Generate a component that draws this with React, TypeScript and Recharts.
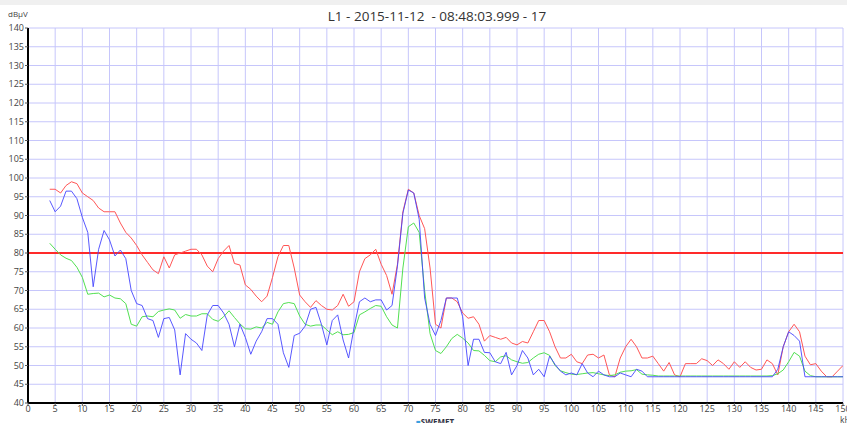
import { CartesianGrid, Line, LineChart, ReferenceLine, XAxis, YAxis } from 'recharts'

// frequency in kHz
const freqs = [
  4, 5, 6, 7, 8, 9, 10, 11, 12, 13,
  14, 15, 16, 17, 18, 19, 20, 21, 22, 23,
  24, 25, 26, 27, 28, 29, 30, 31, 32, 33,
  34, 35, 36, 37, 38, 39, 40, 41, 42, 43,
  44, 45, 46, 47, 48, 49, 50, 51, 52, 53,
  54, 55, 56, 57, 58, 59, 60, 61, 62, 63,
  64, 65, 66, 67, 68, 69, 70, 71, 72, 73,
  74, 75, 76, 77, 78, 79, 80, 81, 82, 83,
  84, 85, 86, 87, 88, 89, 90, 91, 92, 93,
  94, 95, 96, 97, 98, 99, 100, 101, 102, 103,
  104, 105, 106, 107, 108, 109, 110, 111, 112, 113,
  114, 115, 116, 117, 118, 119, 120, 121, 122, 123,
  124, 125, 126, 127, 128, 129, 130, 131, 132, 133,
  134, 135, 136, 137, 138, 139, 140, 141, 142, 143,
  144, 145, 146, 147, 148, 149, 150,
]

// max hold (red)
const maxValues = [
  97, 97, 96, 98, 99, 98.5, 96, 95, 94, 92,
  91, 91, 91, 88, 85.5, 84, 82, 79.5, 77.5, 75.5,
  74.5, 79, 76, 79.5, 80, 80.5, 81, 81, 79.5, 76.5,
  75, 78.5, 80.5, 82, 77.2, 76.8, 71.5, 70.3, 68.5, 67,
  68.5, 73.5, 79, 82, 82, 76, 68.8, 67, 65.5, 67.3,
  66, 65, 64.8, 66, 69, 65.8, 67, 75, 78.5, 79.5,
  81, 77, 74, 69, 77, 91, 97, 96, 90, 86.5,
  76, 61, 60, 68, 68, 67, 64, 62.6, 63, 61,
  56.5, 58, 57.5, 57, 57.5, 56, 55.5, 56.4, 56, 59,
  62, 62, 59, 55, 52, 52, 53, 51, 50.5, 52.8,
  53, 52, 52.8, 47.5, 47, 52, 55, 57, 55, 52,
  52, 52.5, 50.5, 48.5, 50.8, 47.5, 47, 50.5, 50.5, 50.5,
  51.8, 51.3, 50, 51.5, 50.5, 49, 51, 49.5, 51, 49.5,
  48.8, 49, 51.5, 50.5, 47.5, 55, 59, 61, 59, 52.5,
  50.2, 50.5, 48.5, 47, 47, 48.5, 50,
]

// actual (blue)
const actValues = [
  94, 91, 92.5, 96.5, 96.5, 94.5, 89.5, 85.5, 71, 81,
  86, 83.5, 79.2, 80.8, 78.5, 70, 66.5, 66, 62.5, 62,
  57.5, 62.5, 62.8, 59.5, 47.5, 58.5, 57, 56, 54, 63.5,
  66, 66, 64, 61, 55, 61, 57.5, 53, 56.5, 59,
  62.5, 62.5, 61, 53.4, 49.5, 58, 58.6, 60.5, 65, 65.5,
  61, 55.5, 62, 63.5, 56.8, 52, 60, 67, 68, 67,
  67.5, 67.5, 64.8, 66, 76.5, 90.6, 96.8, 96, 89, 68,
  61, 58, 62, 68, 68, 68, 63, 50, 57, 57,
  53.5, 53.4, 51, 50.5, 53.5, 47.5, 50, 54, 52, 47.5,
  49, 47, 52.5, 50.3, 48.5, 47.5, 48, 47.5, 50.5, 48,
  47, 48.5, 47.5, 47, 47, 48, 47.5, 47, 49, 48.5,
  47, 47, 47, 47, 47, 47, 47, 47, 47, 47,
  47, 47, 47, 47, 47, 47, 47, 47, 47, 47,
  47, 47, 47, 47, 49, 55, 59, 58, 56.5, 47,
  47, 47, 47, 47, 47, 47, 47,
]

// average (green)
const avgValues = [
  82.6, 81, 79.5, 78.6, 78, 76.2, 73.5, 69, 69.2, 69.3,
  68.3, 68.8, 68, 67.8, 66.5, 61, 60.5, 63, 63.2, 63,
  64.4, 64.8, 65.1, 64.8, 62.6, 63.6, 63.2, 63.2, 63.8, 63.8,
  62.3, 61.8, 63, 64.6, 62.8, 61.1, 59.8, 59.7, 60.3, 60,
  61.5, 61, 64.3, 66.5, 66.8, 66.5, 63.2, 61, 60.5, 60.8,
  60.8, 59.5, 58.2, 59, 58.2, 58.3, 58.8, 63.5, 64.3, 65.2,
  66, 65.8, 63, 60.8, 60, 76, 87, 88, 85.5, 70,
  58.5, 54, 53.2, 55, 57.2, 58.3, 57.3, 56, 54, 53.9,
  52.7, 51.3, 51, 52.3, 52.6, 51.5, 51, 50.6, 50.8, 52,
  53, 53.4, 52.7, 50, 48.6, 48.1, 47.7, 47.6, 47.8, 48,
  48.1, 47.8, 47.5, 47.3, 47.5, 48.2, 48.5, 48.6, 48.9, 47.7,
  47.5, 47.4, 47.2, 47.2, 47.2, 47.2, 47.2, 47.2, 47.2, 47.2,
  47.2, 47.2, 47.2, 47.2, 47.2, 47.2, 47.2, 47.2, 47.2, 47.2,
  47.2, 47.2, 47.2, 47.3, 47.8, 48.8, 51, 53.5, 52.5, 48.5,
  47.3, 47, 47, 47, 47, 47, 47,
]

const limit = 80

const xTicks = [
  0, 5, 10, 15, 20, 25, 30, 35, 40, 45, 50, 55, 60, 65, 70, 75,
  80, 85, 90, 95, 100, 105, 110, 115, 120, 125, 130, 135, 140, 145, 150,
]
const yTicks = [
  40, 45, 50, 55, 60, 65, 70, 75, 80, 85, 90, 95, 100,
  105, 110, 115, 120, 125, 130, 135, 140,
]

const title = 'L1 - 2015-11-12  - 08:48:03.999 - 17'

const data = freqs.map((f, i) => ({
  f,
  max: maxValues[i],
  act: actValues[i],
  avg: avgValues[i],
}))

const font = '"Open Sans", "Noto Sans", sans-serif'
const tickStyle = { fill: '#444', fontSize: 9, fontFamily: font }

export default function App() {
  return (
    <div
      style={{
        position: 'absolute',
        left: 0,
        top: 0,
        width: 847,
        height: 423,
        background: '#fff',
        overflow: 'hidden',
        fontFamily: font,
      }}
    >
      <div style={{ position: 'absolute', left: 0, top: 0, width: 847, height: 5, background: '#f0f0f0' }} />
      <div
        style={{
          position: 'absolute',
          left: 0,
          width: 874,
          top: 7,
          textAlign: 'center',
          fontSize: 13.5,
          color: '#333',
          whiteSpace: 'pre',
        }}
      >
        {title}
      </div>
      <div style={{ position: 'absolute', left: 8, top: 8, fontSize: 8, color: '#444' }}>dBµV</div>
      <div style={{ position: 'absolute', left: 840, top: 415, fontSize: 8.5, lineHeight: '9px', color: '#444' }}>kHz</div>
      <div
        style={{
          position: 'absolute',
          left: 416,
          top: 416,
          fontSize: 8,
          fontWeight: 700,
          color: '#334',
          whiteSpace: 'pre',
        }}
      >
        <span style={{ color: '#3aa0e0' }}>■</span>SWEMET
      </div>
      <LineChart
        width={847}
        height={423}
        data={data}
        margin={{ top: 28, right: 4, bottom: 0, left: 0 }}
        style={{ position: 'absolute', left: 0, top: 0 }}
      >
        <CartesianGrid stroke="#c6c6fb" strokeWidth={1} />
        <XAxis
          type="number"
          dataKey="f"
          domain={[0, 150]}
          ticks={xTicks}
          interval={0}
          height={20}
          tick={tickStyle}
          tickSize={3}
          tickMargin={0}
          axisLine={{ stroke: '#000', strokeWidth: 2 }}
          tickLine={{ stroke: '#555' }}
          allowDataOverflow
        />
        <YAxis
          type="number"
          domain={[40, 140]}
          ticks={yTicks}
          interval={0}
          width={28}
          tick={tickStyle}
          tickSize={3}
          tickMargin={1}
          axisLine={{ stroke: '#000', strokeWidth: 2 }}
          tickLine={{ stroke: '#555' }}
          allowDataOverflow
        />
        <ReferenceLine y={limit} stroke="#ff2a2a" strokeWidth={2} />
        <Line
          dataKey="max"
          stroke="#ff5656"
          strokeWidth={1}
          dot={false}
          isAnimationActive={false}
        />
        <Line
          dataKey="avg"
          stroke="#52e052"
          strokeWidth={1}
          dot={false}
          isAnimationActive={false}
        />
        <Line
          dataKey="act"
          stroke="#4646ff"
          strokeWidth={1}
          strokeOpacity={0.9}
          dot={false}
          isAnimationActive={false}
        />
      </LineChart>
    </div>
  )
}
